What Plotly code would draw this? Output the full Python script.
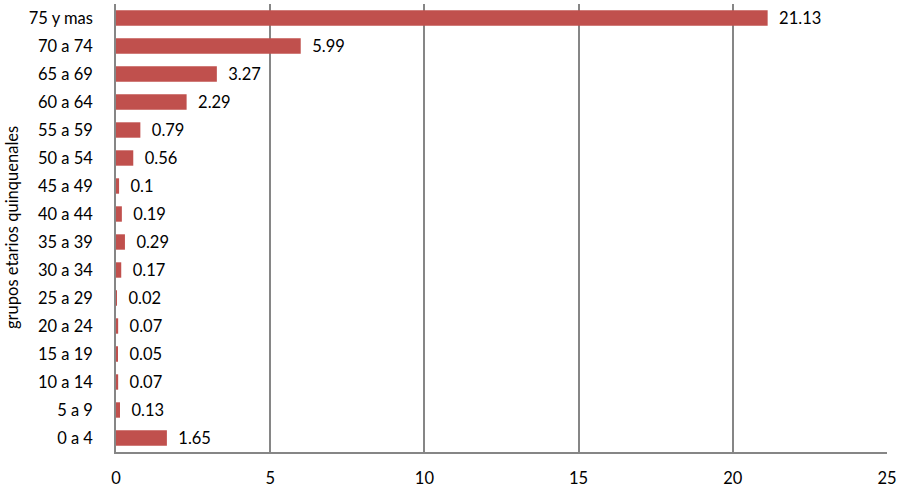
import plotly.graph_objects as go

categories = ["0 a 4", "5 a 9", "10 a 14", "15 a 19", "20 a 24", "25 a 29", "30 a 34",
              "35 a 39", "40 a 44", "45 a 49", "50 a 54", "55 a 59", "60 a 64",
              "65 a 69", "70 a 74", "75 y mas"]
values = [1.65, 0.13, 0.07, 0.05, 0.07, 0.02, 0.17, 0.29, 0.19, 0.1, 0.56, 0.79, 2.29,
          3.27, 5.99, 21.13]
value_labels = ["1.65", "0.13", "0.07", "0.05", "0.07", "0.02", "0.17", "0.29", "0.19",
                "0.1", "0.56", "0.79", "2.29", "3.27", "5.99", "21.13"]
x_ticks = [0, 5, 10, 15, 20, 25]
y_title = "grupos etarios quinquenales"

font_family = "Lato, 'Open Sans', sans-serif"
FS = 16.5

L, R, T, B = 116, 12, 4, 37
W, H = 899, 489
plot_w = W - L - R

fig = go.Figure(go.Bar(
    x=values, y=categories, orientation="h",
    marker=dict(color="#C0504D", line=dict(width=0)),
    text=["  " + t for t in value_labels], textposition="outside",
    constraintext="none",
    textfont=dict(size=FS, color="#000000", family=font_family),
    cliponaxis=False,
))

fig.update_layout(
    width=W, height=H,
    margin=dict(l=L, r=R, t=T, b=B, autoexpand=False),
    plot_bgcolor="white", paper_bgcolor="white",
    bargap=0.45, showlegend=False,
    font=dict(family=font_family, size=FS, color="#000000"),
    xaxis=dict(range=[0, 25], tickvals=x_ticks, showgrid=True, gridcolor="#868686",
               gridwidth=1.5, zeroline=False, showline=True, linecolor="#868686",
               linewidth=1.5, ticks="", ticklabelstandoff=10, automargin=False,
               tickfont=dict(size=FS, family=font_family)),
    yaxis=dict(categoryorder="array", categoryarray=categories, showline=True,
               linecolor="#868686", linewidth=1.5, ticks="", ticklabelstandoff=18,
               automargin=False,
               tickfont=dict(size=FS, family=font_family)),
    annotations=[dict(text=y_title, textangle=-90, xref="paper", yref="paper",
                      x=(12 - L) / plot_w, y=0.5, xanchor="center", yanchor="middle",
                      showarrow=False, font=dict(size=FS, family=font_family))],
)

fig.write_html("out.html", config={"displayModeBar": False},
               post_script="document.body.style.margin='0';document.body.style.padding='0';")
